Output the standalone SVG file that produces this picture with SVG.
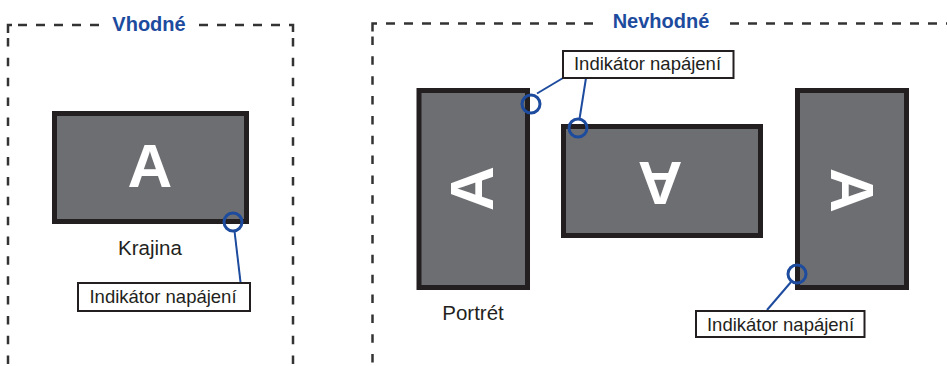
<svg xmlns="http://www.w3.org/2000/svg" width="947" height="366" viewBox="0 0 947 366">
<style>
.dh{stroke:#333;stroke-width:2.5;fill:none;stroke-dasharray:9 9}
.dv{stroke:#333;stroke-width:2.5;fill:none;stroke-dasharray:8.5 11.35}
.cor{stroke:#333;stroke-width:2.5;fill:none}
.title{font-family:"Liberation Sans",Arial,sans-serif;font-weight:bold;font-size:20px;fill:#1d4b9e;text-anchor:middle}
.mon{fill:#6d6e71;stroke:#231f20;stroke-width:5}
.big{font-family:"Liberation Sans",Arial,sans-serif;font-weight:bold;font-size:62px;fill:#fff;text-anchor:middle}
.cap{font-family:"Liberation Sans",Arial,sans-serif;font-size:20.5px;fill:#231f20;text-anchor:middle}
.lbox{fill:#fff;stroke:#231f20;stroke-width:2}
.ltxt{font-family:"Liberation Sans",Arial,sans-serif;font-size:18.5px;fill:#231f20;text-anchor:middle}
.led{fill:none;stroke:#1d4b9e;stroke-width:3}
.lead{stroke:#1d4b9e;stroke-width:2;fill:none}
</style>
<g id="frame-vhodne">
<path class="cor" d="M8,33 V25 H12"/>
<line class="dh" x1="18" y1="25" x2="100" y2="25"/>
<line class="dh" x1="199" y1="25" x2="282" y2="25"/>
<path class="cor" d="M289,25 H293 V32"/>
<line class="dv" x1="8" y1="38" x2="8" y2="366"/>
<line class="dv" x1="293" y1="38" x2="293" y2="366"/>
<text class="title" x="149" y="30.5">Vhodné</text>
</g>
<g id="frame-nevhodne">
<path class="cor" d="M372.5,31.5 V23.5 H377"/>
<line class="dh" x1="386" y1="23.5" x2="594" y2="23.5"/>
<line class="dh" x1="730" y1="23.5" x2="947" y2="23.5"/>
<line class="dv" x1="372.5" y1="36.5" x2="372.5" y2="366"/>
<text class="title" x="661" y="28">Nevhodné</text>
</g>
<g id="monitor-krajina">
<rect class="mon" x="54.5" y="113.5" width="192" height="108"/>
<text class="big" x="150" y="187">A</text>
<text class="cap" x="150" y="255">Krajina</text>
</g>
<g id="monitor-portret">
<rect class="mon" x="419" y="90.5" width="108.5" height="197"/>
<text class="big" transform="translate(470.5,188.5) rotate(-90)" x="0" y="22.2">A</text>
<text class="cap" x="473" y="320">Portrét</text>
</g>
<g id="monitor-inverted">
<rect class="mon" x="563.5" y="126.5" width="197" height="109"/>
<text class="big" transform="translate(660,184.5) rotate(180)" x="0" y="22.2">A</text>
</g>
<g id="monitor-portret-right">
<rect class="mon" x="797.5" y="90.5" width="109" height="197"/>
<text class="big" transform="translate(853,190.3) rotate(90)" x="0" y="22.2">A</text>
</g>
<g id="connectors">
<line class="lead" x1="234.5" y1="231" x2="240.5" y2="282"/>
<line class="lead" x1="537" y1="93.5" x2="563" y2="78"/>
<line class="lead" x1="579.5" y1="119" x2="586" y2="78"/>
<line class="lead" x1="791" y1="282" x2="767" y2="310"/>
</g>
<g id="led-krajina"><circle class="led" cx="233" cy="222" r="9"/></g>
<g id="led-portret"><circle class="led" cx="531" cy="104" r="9"/></g>
<g id="led-inverted"><circle class="led" cx="578" cy="128" r="9"/></g>
<g id="led-portret-right"><circle class="led" cx="797" cy="274" r="9"/></g>
<g id="label-left">
<rect class="lbox" x="78" y="283" width="172" height="28"/>
<text class="ltxt" x="163" y="303">Indikátor napájení</text>
</g>
<g id="label-top">
<rect class="lbox" x="563" y="51" width="170.5" height="27"/>
<text class="ltxt" x="647.5" y="70">Indikátor napájení</text>
</g>
<g id="label-bottom">
<rect class="lbox" x="696" y="311" width="168.5" height="26"/>
<text class="ltxt" x="780.5" y="330.5">Indikátor napájení</text>
</g>
</svg>
